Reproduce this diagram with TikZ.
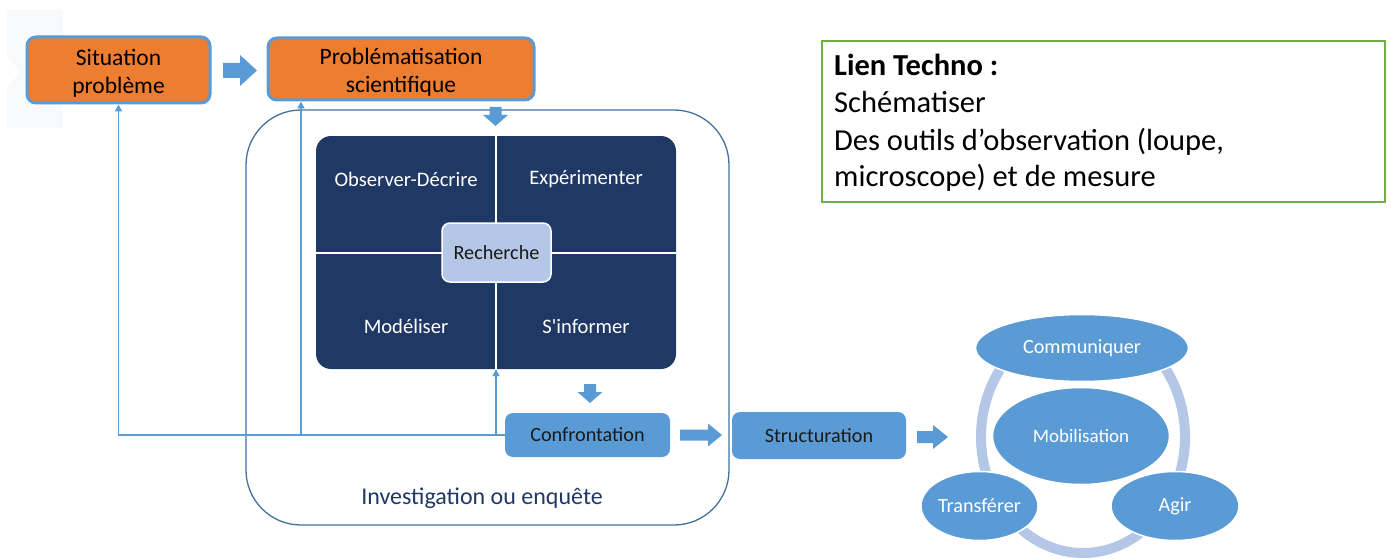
\documentclass[tikz,border=0pt]{standalone}
\usepackage{fontspec}
\setmainfont{Carlito}
\newfontfamily\plaincarlito{Carlito}[Ligatures=TeXOff]
\usetikzlibrary{shapes.geometric,arrows.meta}
\definecolor{orng}{HTML}{ED7D31}
\definecolor{accblue}{HTML}{5B9BD5}
\definecolor{navy}{HTML}{203864}
\definecolor{pale}{HTML}{B4C7E7}
\definecolor{framec}{HTML}{41719C}
\definecolor{grn}{HTML}{70AD47}
\definecolor{dtext}{HTML}{1A1A1A}
\definecolor{ghost}{HTML}{F8F9FB}
\tikzset{
  topbox/.style={draw=accblue, line width=3pt, fill=orng, rounded corners=9pt, inner sep=0pt},
  toptext/.style={align=center, font=\fontsize{23.5}{28}\selectfont, text=black, inner sep=0pt},
  bluebox/.style={fill=accblue, rounded corners=8pt, align=center, inner sep=0pt,
    font=\fontsize{20.2}{24}\selectfont, text=dtext},
  quad/.style={text=white, font=\fontsize{20.6}{24}\selectfont},
  oval/.style={ellipse, fill=accblue, draw=white, line width=1.5pt, inner sep=0pt,
    text=white, font=\fontsize{20.2}{24}\selectfont},
  fb/.style={draw=accblue, line width=1.7pt, -{Triangle[width=7pt,length=7pt]}},
  chunky/.style={fill=accblue, draw=none},
  lientext/.style={anchor=base west, inner sep=0pt, font=\fontsize{30.5}{37}\selectfont, text=black},
}
\begin{document}
\begin{tikzpicture}[x=1pt,y=-1pt]
\useasboundingbox (0,0) rectangle (1391,559);

% faint background shape
\fill[ghost] (7,10) -- (63,10) -- (63,128) -- (7,128) -- (7,88) -- (20,72) -- (7,55) -- cycle;

% top boxes
\node[topbox, minimum width=183pt, minimum height=66pt] (sit) at (118.5,70) {};
\node[toptext] (sittxt) at (118.5,73) {Situation\\problème};
\node[topbox, minimum width=266pt, minimum height=62pt] (prob) at (401,69) {};
\node[toptext] (probtxt) at (401,72) {Problématisation\\scientifique};

% investigation frame
\node[draw=framec, line width=1.3pt, rounded corners=55pt, minimum width=483pt, minimum height=415pt, inner sep=0pt] (inv) at (487.5,317.5) {};
\node[text=navy, font=\fontsize{24}{28}\selectfont] (invlab) at (482,498) {Investigation ou enquête};

% navy research block
\node[fill=navy, rounded corners=15pt, minimum width=360pt, minimum height=233pt, inner sep=0pt] (navyb) at (496,252.5) {};
\draw[white, line width=2pt] (navyb.north) -- (navyb.south);
\draw[white, line width=2pt] (navyb.west) -- (navyb.east);
\node[quad] (obs) at (406,179) {Observer-Décrire};
\node[quad] (exp) at (586,179) {Expérimenter};
\node[quad] (mod) at (406,326) {Modéliser};
\node[quad] (sinf) at (586,326) {S{\plaincarlito '}informer};
\node[fill=pale, draw=white, line width=1.5pt, rounded corners=8pt, minimum width=109pt, minimum height=59pt, inner sep=0pt,
  font=\fontsize{20.2}{24}\selectfont, text=dtext] (rech) at (496.5,252.5) {Recherche};

% confrontation / structuration
\node[bluebox, minimum width=165pt, minimum height=44pt] (conf) at (587.5,435) {Confrontation};
\node[bluebox, minimum width=174pt, minimum height=47pt] (struc) at (819,435.5) {Structuration};

% feedback lines
\coordinate (j1) at (301,435);
\coordinate (j2) at (496,435);
\draw[fb] (conf.west) -| (sit.south);
\draw[fb] (j1) -- (j1 |- prob.south);
\draw[fb] (j2) -- (navyb.south);

% chunky arrows
\fill[chunky] (223,63) -- (240,63) -- (240,55) -- (257,70.5) -- (240,86) -- (240,78) -- (223,78) -- cycle;
\fill[chunky] (489.5,107) -- (501.5,107) -- (501.5,115) -- (508,115) -- (495.5,126) -- (483,115) -- (489.5,115) -- cycle;
\fill[chunky] (584,384) -- (596,384) -- (596,392) -- (602.5,392) -- (590,403) -- (577.5,392) -- (584,392) -- cycle;
\fill[chunky] (680,429.5) -- (708,429.5) -- (708,423.5) -- (722,435) -- (708,446.5) -- (708,440.5) -- (680,440.5) -- cycle;
\fill[chunky] (917,431) -- (933,431) -- (933,425) -- (948,437) -- (933,449) -- (933,443) -- (917,443) -- cycle;

% cycle
\draw[pale, line width=10pt] (1083,437) ellipse [x radius=102pt, y radius=116pt];
\node[oval, minimum width=213pt, minimum height=67pt] (comm) at (1082,348) {Communiquer};
\node[oval, minimum width=177pt, minimum height=97pt, font=\fontsize{19}{22}\selectfont] (mob) at (1081,436) {Mobilisation};
\node[oval, minimum width=111pt, minimum height=69pt] (transf) at (979.5,506) {Transférer};
\node[oval, minimum width=128pt, minimum height=69pt] (agir) at (1175,506) {Agir};

% lien techno
\node[draw=grn, line width=2pt, minimum width=563pt, minimum height=161pt, inner sep=0pt, anchor=north west] (lien) at (821,40) {};
\node[lientext] (l1) at (834,76) {\textbf{Lien Techno :}};
\node[lientext] (l2) at (834,113) {Schématiser};
\node[lientext] (l3) at (834,150) {Des outils d’observation (loupe,};
\node[lientext] (l4) at (834,186) {microscope) et de mesure};
\end{tikzpicture}
\end{document}
